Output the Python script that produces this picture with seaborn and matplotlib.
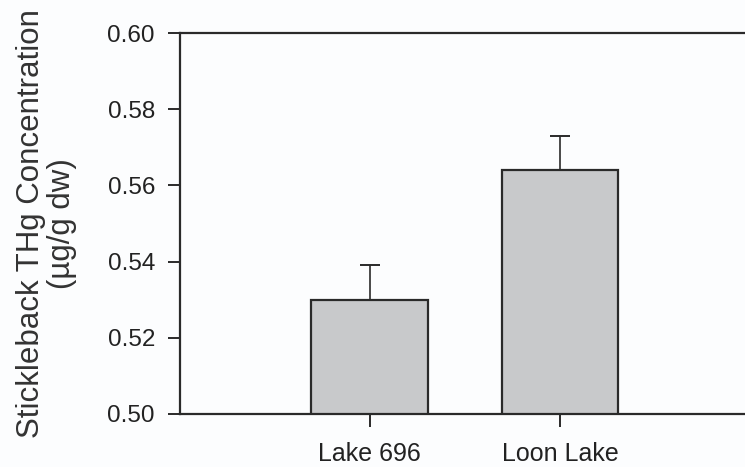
import matplotlib
matplotlib.use("Agg")
import matplotlib.pyplot as plt
import seaborn as sns
import pandas as pd
import numpy as np

lakes = ["Lake 696", "Loon Lake"]
thg_mean = [0.530, 0.564]
thg_se = [0.009, 0.009]
y_ticks = [0.50, 0.52, 0.54, 0.56, 0.58, 0.60]

sns.set_theme(style="white")
plt.rcParams['font.family'] = ['Liberation Sans', 'DejaVu Sans']

df = pd.DataFrame({"lake": lakes, "thg": thg_mean})

fig = plt.figure(figsize=(7.45, 4.67), dpi=100)
fig.patch.set_facecolor("#fcfdfe")
ax = fig.add_axes([180/745, 1 - 414/467, 1 - 180/745, (414 - 33)/467])
ax.set_facecolor("#fcfdfe")

sns.barplot(data=df, x="lake", y="thg", color="#c8c9cb", saturation=1,
            width=0.61, edgecolor="#2a2a2a", linewidth=1.6, errorbar=None, ax=ax)

xpos = np.arange(len(lakes))
ax.errorbar(xpos, thg_mean, yerr=[np.zeros(len(thg_se)), thg_se], fmt="none",
            ecolor="#2a2a2a", elinewidth=1.2, capsize=7.2, capthick=1.4, zorder=1)

ax.set_ylim(0.50, 0.60)
ax.set_xlim(-0.995, 1.97)
ax.set_yticks(y_ticks)
ax.set_yticklabels([f"{t:.2f}" for t in y_ticks])

for s in ["left", "bottom", "top"]:
    ax.spines[s].set_visible(True)
    ax.spines[s].set_color("#2a2a2a")
    ax.spines[s].set_linewidth(1.6)
ax.spines["right"].set_visible(False)

ax.tick_params(axis="both", which="major", direction="out", length=9, width=1.4,
               color="#2a2a2a", labelcolor="#222222",
               left=True, bottom=True)
ax.tick_params(axis="y", pad=9, labelsize=17.5)
ax.tick_params(axis="x", pad=11, labelsize=18)
ax.set_xlabel("")
ax.set_ylabel("Stickleback THg Concentration\n(µg/g dw)", fontsize=22.5,
              color="#333333", labelpad=22, linespacing=1.05)

fig.savefig("out.png", dpi=100, facecolor=fig.get_facecolor())
